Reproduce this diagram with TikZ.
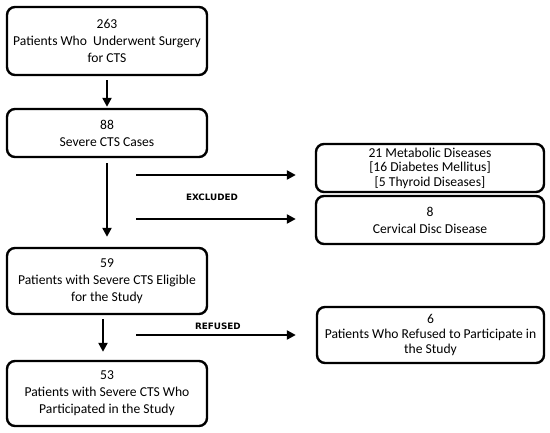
\documentclass[tikz,border=0pt]{standalone}
\usepackage{fontspec}
\setmainfont{Carlito}
\newfontfamily\lblfont{DejaVu Sans}
\usetikzlibrary{arrows.meta}
\tikzset{
  box/.style={draw=black, line width=2.4pt, rounded corners=8pt, align=center,
    inner sep=0pt, font=\fontsize{13.6}{17}\selectfont},
  tight/.style={font=\fontsize{13.6}{14.6}\selectfont},
  arr/.style={line width=2.4pt, -{Triangle[length=9pt,width=9pt]}},
  lbl/.style={font=\lblfont\bfseries\fontsize{8.8}{11}\selectfont, inner sep=0pt},
}
\begin{document}
\begin{tikzpicture}[x=1pt,y=-1pt]
\useasboundingbox (0,0) rectangle (550,433);
\node[box, minimum width=200pt, minimum height=68pt] (b1) at (107,41)
  {263\\Patients Who\ \ Underwent Surgery\\for CTS};
\node[box, minimum width=200pt, minimum height=48pt] (b2) at (107,133)
  {88\\Severe CTS Cases};
\node[box, minimum width=200pt, minimum height=66pt] (b3) at (107,281)
  {59\\Patients with Severe CTS Eligible\\for the Study};
\node[box, minimum width=200pt, minimum height=65pt] (b4) at (107,393.5)
  {53\\Patients with Severe CTS Who\\Participated in the Study};
\node[box, tight, minimum width=228pt, minimum height=48pt] (b5) at (430,168)
  {21 Metabolic Diseases\\{[}16 Diabetes Mellitus{]}\\{[}5 Thyroid Diseases{]}};
\node[box, minimum width=228pt, minimum height=48pt] (b6) at (430,220)
  {8\\Cervical Disc Disease};
\node[box, tight, minimum width=227pt, minimum height=56pt] (b7) at (430.5,335)
  {6\\Patients Who Refused to Participate in\\the Study};
\draw[arr, shorten <=4pt, shorten >=1pt] (b1.south) -- (b2.north);
\draw[arr, shorten <=5pt, shorten >=10pt] (b2.south) -- (b3.north);
\draw[arr, shorten <=4pt, shorten >=8pt] ([xshift=-4pt]b3.south) -- ([xshift=-4pt]b4.north);
\coordinate (e1) at (136,175);
\coordinate (e2) at (136,219);
\coordinate (r1) at (136,335);
\draw[arr, shorten >=19pt] (e1) -- (e1 -| b5.west);
\draw[arr, shorten >=19pt] (e2) -- (e2 -| b6.west);
\draw[arr, shorten >=20pt] (r1) -- (r1 -| b7.west);
\node[lbl] (ex) at (212,197) {EXCLUDED};
\node[lbl] (rf) at (218,326) {REFUSED};
\end{tikzpicture}
\end{document}
